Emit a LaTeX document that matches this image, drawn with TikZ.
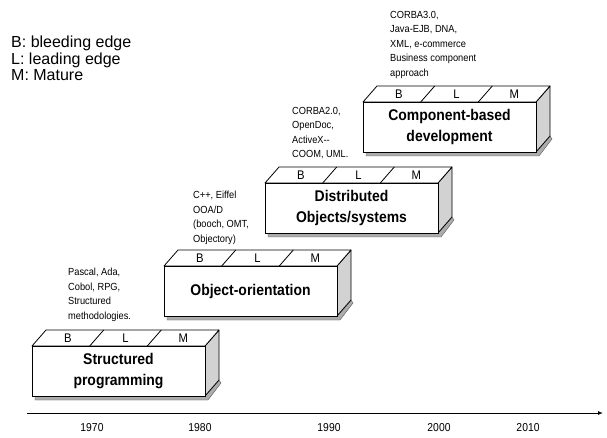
\documentclass[tikz,border=0pt]{standalone}
\usepackage{fontspec}
\setmainfont{Liberation Sans}[FakeStretch=0.9]
\newfontfamily\legendfont{Liberation Sans}
\usetikzlibrary{arrows.meta}
\tikzset{
  edgebox/.style={draw=black, line width=0.8pt, line join=round},
  topface/.style={edgebox, fill=white},
  sideface/.style={edgebox, fill=gray!35},
  shadowstrip/.style={fill=gray!65, draw=gray!70!black, line width=0.4pt},
  frontface/.style={draw=black, line width=0.8pt, fill=white, minimum width=173pt, minimum height=50pt, inner sep=0pt, outer sep=0pt, anchor=north west, align=center, font=\bfseries\fontsize{15.5}{20.5}\selectfont},
  stagelbl/.style={inner sep=0pt, font=\fontsize{12.5}{12.5}\selectfont},
  annot/.style={anchor=north west, inner sep=0pt, align=left, font=\fontsize{10.3}{14.5}\selectfont},
  legendtxt/.style={anchor=north west, inner sep=0pt, align=left, font=\legendfont\fontsize{16}{16.5}\selectfont},
  yearlbl/.style={inner sep=0pt, font=\fontsize{11.5}{11.5}\selectfont},
  timeline/.style={line width=0.9pt, -{Latex[length=5pt,width=4pt]}},
}
\newcommand\devblock[4]{%
  \path[shadowstrip] (#2+3,#3+50) -- (#2+173,#3+50) -- (#2+187,#3+34) -- (#2+189,#3+37) -- (#2+176,#3+54) -- (#2+3,#3+54) -- cycle;
  \path[sideface] (#2+173,#3) -- (#2+187,#3-16) -- (#2+187,#3+34) -- (#2+173,#3+50) -- cycle;
  \path[topface] (#2,#3) -- (#2+14,#3-16) -- (#2+187,#3-16) -- (#2+173,#3) -- cycle;
  \draw[edgebox] (#2+57.7,#3) -- (#2+71.7,#3-16) (#2+115.3,#3) -- (#2+129.3,#3-16);
  \node[stagelbl] (#1-B) at (#2+35.8,#3-8) {B};
  \node[stagelbl] (#1-L) at (#2+93.5,#3-8) {L};
  \node[stagelbl] (#1-M) at (#2+151.2,#3-8) {M};
  \node[frontface] (#1) at (#2,#3) {#4};
}
\begin{document}
\begin{tikzpicture}[x=1pt,y=-1pt]
\useasboundingbox (0,0) rectangle (607,438);
\fill[white] (0,0) rectangle (607,438);

\node[legendtxt] (legend) at (11,36) {B: bleeding edge\\L: leading edge\\M: Mature};

\devblock{sp}{32}{346}{Structured\\programming}
\devblock{oo}{164}{266}{Object-orientation}
\devblock{dist}{265}{183}{Distributed\\Objects/systems}
\devblock{cbd}{363}{102}{Component-based\\development}

\node[annot] (a1) at (68,268) {Pascal, Ada,\\Cobol, RPG,\\Structured\\methodologies.};
\node[annot] (a2) at (193,191) {C++, Eiffel\\OOA/D\\(booch, OMT,\\Objectory)};
\node[annot] (a3) at (292,107) {CORBA2.0,\\OpenDoc,\\ActiveX-{}-\\COOM, UML.};
\node[annot] (a4) at (390,11) {CORBA3.0,\\Java-EJB, DNA,\\XML, e-commerce\\Business component\\approach};

\coordinate (t0) at (27,413);
\coordinate (t1) at (603,413);
\draw[timeline] (t0) -- (t1);

\node[yearlbl] (y1970) at (92,428) {1970};
\node[yearlbl] (y1980) at (200,428) {1980};
\node[yearlbl] (y1990) at (329,428) {1990};
\node[yearlbl] (y2000) at (439,428) {2000};
\node[yearlbl] (y2010) at (528,428) {2010};
\end{tikzpicture}
\end{document}
